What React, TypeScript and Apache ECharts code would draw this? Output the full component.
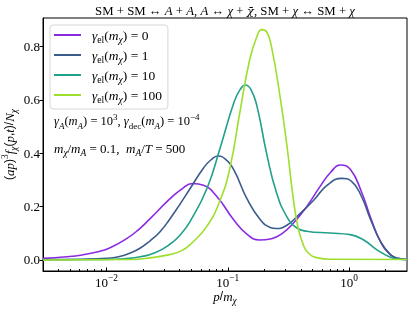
import React, { useEffect, useRef } from "react";
import * as echarts from "echarts";

// ---- data (p / m_chi, value) ----
const pGamma0 = [0.003, 0.00468, 0.00631, 0.00851, 0.01072, 0.01445, 0.0182, 0.02291, 0.03311, 0.04169, 0.05129, 0.0631, 0.08128, 0.1122, 0.1445, 0.182, 0.2291, 0.2818, 0.3467, 0.4467, 0.5754, 0.7079, 0.8511, 1.023, 1.259, 1.514, 1.82, 2.188, 2.512, 3.0];
const vGamma0 = [0.006, 0.012, 0.019, 0.031, 0.046, 0.078, 0.112, 0.155, 0.228, 0.266, 0.287, 0.28, 0.238, 0.15, 0.096, 0.075, 0.08, 0.1, 0.138, 0.2, 0.275, 0.33, 0.356, 0.34, 0.258, 0.155, 0.068, 0.02, 0.006, 0.002];

const pGamma1 = [0.003, 0.00631, 0.01, 0.01259, 0.01549, 0.01905, 0.02291, 0.02754, 0.03311, 0.03981, 0.04898, 0.0631, 0.07244, 0.08318, 0.0955, 0.1122, 0.1445, 0.1862, 0.2239, 0.2512, 0.309, 0.3715, 0.5129, 0.6607, 0.871, 1.047, 1.259, 1.514, 1.82, 2.188, 2.512, 3.0];
const vGamma1 = [0.002, 0.003, 0.006, 0.012, 0.025, 0.045, 0.072, 0.105, 0.152, 0.205, 0.268, 0.345, 0.375, 0.39, 0.378, 0.338, 0.228, 0.15, 0.122, 0.118, 0.131, 0.163, 0.225, 0.281, 0.306, 0.295, 0.24, 0.148, 0.068, 0.02, 0.006, 0.002];

const pGamma10 = [0.003, 0.01, 0.01413, 0.01905, 0.02512, 0.03311, 0.04074, 0.04898, 0.06761, 0.0871, 0.1122, 0.1259, 0.1396, 0.1549, 0.1738, 0.2089, 0.2512, 0.309, 0.3715, 0.4467, 0.6918, 1.023, 1.318, 1.698, 2.188, 2.512, 3.0];
const vGamma10 = [0.001, 0.002, 0.005, 0.012, 0.027, 0.058, 0.095, 0.145, 0.27, 0.425, 0.59, 0.638, 0.656, 0.64, 0.578, 0.4, 0.255, 0.16, 0.12, 0.108, 0.101, 0.095, 0.075, 0.038, 0.01, 0.004, 0.002];

const pGamma100 = [0.003, 0.01585, 0.02291, 0.03311, 0.04169, 0.05012, 0.06761, 0.0871, 0.1047, 0.1259, 0.1514, 0.1738, 0.1905, 0.2089, 0.2291, 0.2692, 0.309, 0.3467, 0.3802, 0.4169, 0.4571, 0.5495, 0.7079, 3.0];
const vGamma100 = [0.0, 0.002, 0.008, 0.02, 0.035, 0.062, 0.128, 0.228, 0.35, 0.555, 0.75, 0.838, 0.864, 0.856, 0.8, 0.615, 0.42, 0.23, 0.12, 0.06, 0.028, 0.008, 0.003, 0.002];

const gammaLabels = ["0", "1", "10", "100"];
const seriesColors = ["#8a2be2", "#3b5b8b", "#21a08a", "#9ddf2c"];

const xMin = 0.003;
const xMax = 3;
const yMin = -0.0413;
const yMax = 0.9075;
const xMajorTicks = [0.01, 0.1, 1];
const xMinorTicks = [0.004, 0.005, 0.006, 0.007, 0.008, 0.009, 0.02, 0.03, 0.04, 0.05, 0.06, 0.07, 0.08, 0.09, 0.2, 0.3, 0.4, 0.5, 0.6, 0.7, 0.8, 0.9, 2];
const yTicks = [0, 0.2, 0.4, 0.6, 0.8];

const FONT = "Liberation Serif";

function mathRich(size: number) {
  const sub = Math.round(size * 0.72 * 10) / 10;
  return {
    n: { fontFamily: FONT, fontSize: size, lineHeight: 18, color: "#000" },
    i: { fontFamily: FONT, fontSize: size, fontStyle: "italic", lineHeight: 18, color: "#000" },
    cb: { fontFamily: "DejaVu Serif", fontSize: size * 0.92, fontStyle: "italic", lineHeight: 18, color: "#000" },
    s: { fontFamily: FONT, fontSize: sub, lineHeight: 12, verticalAlign: "bottom", color: "#000" },
    si: { fontFamily: FONT, fontSize: sub, fontStyle: "italic", lineHeight: 12, verticalAlign: "bottom", color: "#000" },
    p: { fontFamily: FONT, fontSize: sub, lineHeight: 11, verticalAlign: "top", color: "#000" },
  };
}

export default function App() {
  const ref = useRef<HTMLDivElement>(null);
  useEffect(() => {
    if (!ref.current) return;
    const chart = echarts.init(ref.current, undefined, { renderer: "svg" });
    const lg = (v: number) => Math.log10(v);
    const allP = [pGamma0, pGamma1, pGamma10, pGamma100];
    const allV = [vGamma0, vGamma1, vGamma10, vGamma100];

    const series = gammaLabels.map((g, k) => ({
      name: g,
      type: "line",
      xAxisIndex: 0,
      yAxisIndex: 0,
      data: allP[k].map((p, i) => [lg(p), allV[k][i]]),
      smooth: 0.5,
      showSymbol: false,
      symbol: "none",
      lineStyle: { color: seriesColors[k], width: 1.6 },
      itemStyle: { color: seriesColors[k] },
      z: 3 + k,
    }));

    const option: any = {
      animation: false,
      grid: {
        left: 43,
        right: 6,
        top: 18,
        bottom: 39,
        show: true,
        borderColor: "#000",
        borderWidth: 1,
        backgroundColor: "transparent",
        outerBoundsMode: "none",
      },
      xAxis: [
        {
          type: "value",
          min: lg(xMin),
          max: lg(xMax),
          axisLine: { show: true, onZero: false, lineStyle: { color: "#000", width: 1 } },
          axisTick: { show: true, inside: true, length: 3.5, customValues: xMajorTicks.map(lg), lineStyle: { color: "#000" } },
          axisLabel: {
            show: true,
            customValues: xMajorTicks.map(lg),
            margin: 2,
            formatter: (v: number) => {
              const e = Math.round(v);
              return `{n|10}{p|${e < 0 ? "−" : ""}${Math.abs(e)}}`;
            },
            rich: mathRich(13),
          },
          splitLine: { show: false },
          name: "{i|p}/{i|m}{si|χ}",
          nameLocation: "middle",
          nameGap: 16,
          nameMoveOverlap: false,
          nameTextStyle: { rich: mathRich(13) },
        },
        {
          type: "value",
          min: lg(xMin),
          max: lg(xMax),
          position: "bottom",
          axisLine: { show: false, onZero: false },
          axisTick: { show: true, inside: true, length: 2, customValues: xMinorTicks.map(lg), lineStyle: { color: "#000" } },
          axisLabel: { show: false },
          splitLine: { show: false },
        },
      ],
      yAxis: {
        type: "value",
        min: yMin,
        max: yMax,
        axisLine: { show: true, onZero: false, lineStyle: { color: "#000", width: 1 } },
        axisTick: { show: true, inside: false, length: 3.5, customValues: yTicks, lineStyle: { color: "#000" } },
        axisLabel: {
          show: true,
          customValues: yTicks,
          margin: 3,
          formatter: (v: number) => v.toFixed(1),
          fontFamily: FONT,
          fontSize: 13,
          color: "#000",
        },
        splitLine: { show: false },
        name: "({i|ap}){p|3}{i|f}{si|χ}({i|p},{i|t})/{i|N}{si|χ}",
        nameLocation: "middle",
        nameRotate: 90,
        nameGap: 25,
        nameMoveOverlap: false,
        nameTextStyle: { rich: mathRich(13) },
      },
      legend: {
        orient: "vertical",
        left: 50,
        top: 25,
        data: gammaLabels,
        icon: "rect",
        itemWidth: 27,
        itemHeight: 2,
        itemGap: 4,
        padding: [3, 6, 5, 4],
        backgroundColor: "#fff",
        borderColor: "#d6d6d6",
        borderWidth: 1,
        borderRadius: 3,
        formatter: (name: string) => `{g|γ}{s|el}{n|(}{i|m}{si|χ}{n|) = ${name}}`,
        textStyle: {
          rich: { ...mathRich(13.5), g: { fontFamily: FONT, fontSize: 13.5, fontStyle: "italic", lineHeight: 16, padding: [0, 0, 0, 6], color: "#000" } },
        },
      },
      graphic: [
        {
          type: "text",
          x: 225,
          y: 10.5,
          style: {
            text: "SM + SM ↔ {i|A} + {i|A}, {i|A} ↔ {i|χ} + {cb|χ̄}, SM + {i|χ} ↔ SM + {i|χ}",
            fontFamily: FONT,
            fontSize: 12.8,
            fill: "#000",
            align: "center",
            verticalAlign: "middle",
            rich: mathRich(12.8),
          },
        },
        {
          type: "text",
          x: 54,
          y: 121,
          style: {
            text: "{i|γ}{si|A}{n|(}{i|m}{si|A}{n|) = 10}{p|3}{n|, }{i|γ}{s|dec}{n|(}{i|m}{si|A}{n|) = 10}{p|−4}",
            fontFamily: FONT,
            fontSize: 12.5,
            fill: "#000",
            align: "left",
            verticalAlign: "middle",
            rich: mathRich(12.5),
          },
        },
        {
          type: "text",
          x: 54,
          y: 148,
          style: {
            text: "{i|m}{si|χ}{n|/}{i|m}{si|A}{n| = 0.1,  }{i|m}{si|A}{n|/}{i|T}{n| = 500}",
            fontFamily: FONT,
            fontSize: 13,
            fill: "#000",
            align: "left",
            verticalAlign: "middle",
            rich: mathRich(13),
          },
        },
      ],
      series,
    };
    chart.setOption(option);
    return () => chart.dispose();
  }, []);
  return <div ref={ref} style={{ position: "fixed", left: 0, top: 0, width: 413, height: 310 }} />;
}
